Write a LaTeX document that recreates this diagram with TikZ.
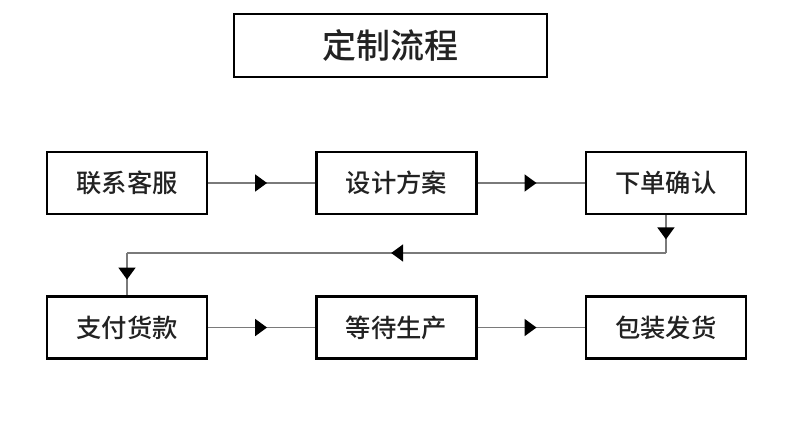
\documentclass[tikz,border=0pt]{standalone}
\usepackage{fontspec}
\setmainfont{Noto Sans CJK SC Medium}
\usetikzlibrary{positioning, arrows.meta, decorations.markings}

\definecolor{inkgray}{HTML}{222222}
\definecolor{linegray}{HTML}{7A7A7A}

\tikzset{
    stepbox/.style={rectangle, draw=black, line width=1.6pt, text=inkgray,
        minimum width=120pt, minimum height=46.5pt, inner sep=0pt,
        font=\fontsize{19}{22}\selectfont},
    titlebox/.style={stepbox, minimum width=234.75pt, minimum height=47.25pt,
        font=\fontsize{25.5}{30}\selectfont},
    midarrow/.style={draw=linegray, line width=1.3pt, postaction={decorate},
        decoration={markings, mark=at position 0.5 with
            {\arrow[xshift=4pt, black]{Triangle[length=9pt, width=12.75pt]}}}}
}

\begin{document}
\begin{tikzpicture}[x=0.75pt, y=-0.75pt, node distance=60.3pt and 80.5pt]
    \useasboundingbox (0,0) rectangle (790,428);

    % Title
    \node [titlebox] (title) at (390.5,45.5) {定制流程};

    % Steps
    \node [stepbox] (contact) at (127,183) {联系客服};
    \node [stepbox, right=of contact] (design) {设计方案};
    \node [stepbox, right=of design] (order) {下单确认};
    \node [stepbox, below=of contact] (pay) {支付货款};
    \node [stepbox, right=of pay] (produce) {等待生产};
    \node [stepbox, right=of produce] (ship) {包装发货};

    % Turn points
    \coordinate (turnR) at (order.south |- 0,253);
    \coordinate (turnL) at (pay.north |- 0,253);

    % Arrows
    \path [midarrow] (contact) -- (design);
    \path [midarrow] (design) -- (order);
    \path [midarrow] (order.south) -- (turnR);
    \path [midarrow] (turnR) -- (turnL);
    \path [midarrow] (turnL) -- (pay.north);
    \path [midarrow] (pay) -- (produce);
    \path [midarrow] (produce) -- (ship);
\end{tikzpicture}
\end{document}
